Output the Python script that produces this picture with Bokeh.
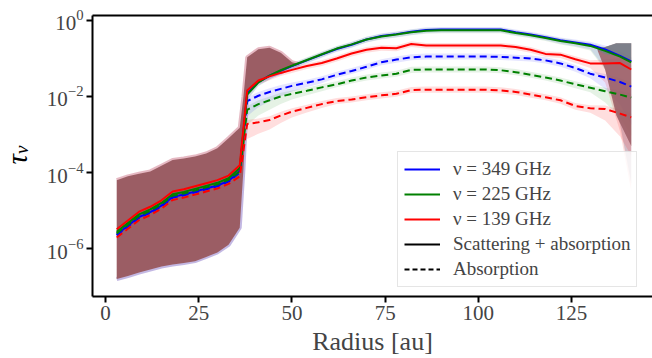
import numpy as np
from bokeh.plotting import figure
from bokeh.layouts import row
from bokeh.models import (Range1d, FixedTicker, Legend, LegendItem,
                          LinearAxis, ColumnDataSource, Div)
from bokeh.embed import file_html
from bokeh.resources import INLINE

# ---------------- data (log10 of tau_nu) ----------------
radius = [3, 6, 9, 12, 15, 18, 21, 24, 27, 30, 33, 36, 38, 41, 44, 47, 50,
          54, 58, 62, 66, 70, 74, 78, 82, 86, 90, 94, 98, 102, 106, 110, 114,
          118, 122, 126, 130, 134, 138, 141]

blue_solid = [-5.63, -5.40, -5.17, -5.04, -4.87, -4.64, -4.58, -4.50, -4.42, -4.34, -4.22, -3.95,
              -1.92, -1.62, -1.45, -1.32, -1.20, -1.05, -0.90, -0.75, -0.64, -0.50, -0.41, -0.36,
              -0.30, -0.25, -0.24, -0.24, -0.24, -0.24, -0.24, -0.31, -0.37, -0.44, -0.52, -0.58,
              -0.64, -0.76, -0.93, -1.08]
green_solid = [-5.56, -5.33, -5.10, -4.97, -4.80, -4.57, -4.51, -4.43, -4.35, -4.27, -4.15, -3.88,
               -1.95, -1.63, -1.45, -1.31, -1.19, -1.04, -0.89, -0.74, -0.63, -0.50, -0.42, -0.37,
               -0.31, -0.27, -0.26, -0.26, -0.26, -0.26, -0.26, -0.33, -0.39, -0.46, -0.54, -0.60,
               -0.67, -0.80, -0.95, -1.10]
red_solid = [-5.49, -5.26, -5.03, -4.90, -4.73, -4.50, -4.44, -4.36, -4.28, -4.20, -4.08, -3.81,
             -1.84, -1.58, -1.47, -1.38, -1.30, -1.20, -1.12, -1.00, -0.87, -0.77, -0.72, -0.73,
             -0.62, -0.66, -0.66, -0.66, -0.66, -0.66, -0.66, -0.70, -0.77, -0.88, -0.90, -1.02,
             -1.13, -1.13, -1.12, -1.29]
blue_dash = [-5.65, -5.42, -5.19, -5.06, -4.89, -4.66, -4.60, -4.52, -4.44, -4.36, -4.24, -4.00,
             -2.12, -1.98, -1.88, -1.80, -1.72, -1.64, -1.55, -1.43, -1.33, -1.22, -1.10, -1.03,
             -0.97, -0.95, -0.95, -0.95, -0.95, -0.95, -0.96, -0.98, -1.00, -1.05, -1.13, -1.25,
             -1.40, -1.50, -1.62, -1.74]
green_dash = [-5.60, -5.37, -5.14, -5.01, -4.84, -4.61, -4.55, -4.47, -4.39, -4.31, -4.19, -3.97,
              -2.35, -2.20, -2.10, -2.00, -1.93, -1.85, -1.76, -1.68, -1.58, -1.50, -1.45, -1.40,
              -1.30, -1.29, -1.29, -1.29, -1.29, -1.29, -1.31, -1.36, -1.43, -1.50, -1.58, -1.68,
              -1.77, -1.86, -1.95, -2.03]
red_dash = [-5.71, -5.48, -5.25, -5.12, -4.95, -4.72, -4.66, -4.58, -4.50, -4.42, -4.30, -4.10,
            -2.72, -2.68, -2.62, -2.50, -2.40, -2.30, -2.20, -2.12, -2.08, -2.02, -1.97, -1.93,
            -1.83, -1.82, -1.82, -1.82, -1.82, -1.82, -1.84, -1.88, -1.95, -2.02, -2.10, -2.25,
            -2.31, -2.33, -2.45, -2.55]

# uncertainty half-widths (dex) above / below each curve
solid_up = [0.04] * 12 + [0.10, 0.08, 0.08, 0.07, 0.07, 0.07, 0.07, 0.07, 0.07, 0.07, 0.07, 0.07,
                          0.07, 0.07, 0.07, 0.07, 0.07, 0.07, 0.07, 0.07, 0.07, 0.07, 0.07, 0.08,
                          0.08, 0.10, 0.12, 0.12]
solid_dn = [0.04] * 12 + [0.15, 0.10, 0.10, 0.08, 0.08, 0.08, 0.08, 0.08, 0.08, 0.08, 0.08, 0.08,
                          0.08, 0.08, 0.08, 0.08, 0.08, 0.08, 0.08, 0.08, 0.08, 0.08, 0.09, 0.10,
                          0.12, 0.50, 1.80, 3.20]
dash_up = [0.04] * 12 + [0.10, 0.10, 0.10, 0.10, 0.09, 0.08, 0.08, 0.08, 0.08, 0.08, 0.08, 0.08,
                         0.08, 0.08, 0.08, 0.08, 0.08, 0.08, 0.08, 0.08, 0.08, 0.08, 0.08, 0.08,
                         0.08, 0.09, 0.10, 0.10]
dash_dn = [0.04] * 12 + [0.40, 0.30, 0.25, 0.20, 0.15, 0.12, 0.10, 0.08, 0.08, 0.08, 0.08, 0.08,
                         0.08, 0.08, 0.08, 0.08, 0.08, 0.08, 0.08, 0.08, 0.08, 0.08, 0.09, 0.10,
                         0.12, 0.30, 0.60, 1.00]

# wide (overlapping) posterior envelope
env_r = [3, 6, 9, 12, 15, 18, 21, 24, 27, 30, 33, 36, 37, 38, 41, 44, 47, 50, 52]
env_hi = [-4.20, -4.10, -4.03, -3.97, -3.82, -3.67, -3.63, -3.58, -3.50, -3.36, -3.10, -2.82,
          -2.00, -0.97, -0.76, -0.72, -0.85, -1.10, -1.15]
env_lo = [-6.80, -6.72, -6.63, -6.55, -6.47, -6.42, -6.38, -6.33, -6.22, -6.10, -5.90, -5.45,
          -3.90, -1.88, -1.60, -1.47, -1.37, -1.22, -1.15]
tail_r = [132, 134, 137, 141]
tail_hi = [-0.75, -0.70, -0.60, -0.60]
tail_lo = [-0.80, -1.30, -2.50, -3.30]
teal_r = [132, 134, 137, 141]
teal_hi = [-0.75, -0.70, -0.60, -0.60]
teal_lo = [-0.78, -0.88, -0.93, -1.05]

x_ticks = [0, 25, 50, 75, 100, 125]
y_ticks = [1e-6, 1e-4, 1e-2, 1e0]
labels = ["\u03bd = 349 GHz", "\u03bd = 225 GHz", "\u03bd = 139 GHz",
          "Scattering + absorption", "Absorption"]
y_title = ("\u03c4", "\u03bd")   # tau with subscript nu
colors = ["#0000ff", "#008000", "#ff0000"]

FONT = "Liberation Serif"
LEFT_W = 40
TOP, BOTTOM = 15, 296          # frame edges in page pixels

# ---------------- left strip with the rotated y-axis title ----------------
title_html = (
    '<div style="position:absolute; left:17px; top:155px; '
    'transform: translate(-50%, -50%) rotate(-90deg); white-space:nowrap; '
    "font-family:'Liberation Serif'; font-style:italic; font-size:29px; "
    'line-height:1; color:black;">'
    + y_title[0]
    + '<sub style="font-size:19px; vertical-align:-0.1em;">' + y_title[1] + '</sub></div>'
)
lt = Div(text=title_html, width=LEFT_W, height=358, margin=0,
         styles={"position": "relative", "overflow": "visible"})

# ---------------- main figure ----------------
p = figure(width=652 - LEFT_W, height=358, output_backend="svg", toolbar_location=None,
           y_axis_type="log",
           x_range=Range1d(-3.49, 146.7), y_range=Range1d(10 ** -7.26, 10 ** 0.13),
           min_border_left=92 - LEFT_W, min_border_right=0, min_border_top=TOP,
           min_border_bottom=358 - BOTTOM, margin=0)
p.outline_line_color = None
p.grid.visible = False
p.background_fill_color = "white"

def pw(a):
    return 10 ** np.asarray(a, dtype=float)

r = np.asarray(radius, dtype=float)
solids = [blue_solid, green_solid, red_solid]
dashes = [blue_dash, green_dash, red_dash]
alphas = [0.10, 0.10, 0.13]

# light bands
for c, s, d, a in zip(colors, solids, dashes, alphas):
    s = np.asarray(s); d = np.asarray(d)
    p.varea(x=r, y1=pw(s - np.asarray(solid_dn)), y2=pw(s + np.asarray(solid_up)),
            fill_color=c, fill_alpha=a)
    p.varea(x=r, y1=pw(d - np.asarray(dash_dn)), y2=pw(d + np.asarray(dash_up)),
            fill_color=c, fill_alpha=a)

# envelope fringes + brown envelope
p.line(env_r, pw(env_hi), line_color="#e0a8b4", line_width=4, line_alpha=0.8)
p.line(env_r, pw(env_lo), line_color="#b4a6dc", line_width=4, line_alpha=0.8)
p.varea(x=env_r, y1=pw(env_lo), y2=pw(env_hi), fill_color="#9b5d64", fill_alpha=1.0)
p.varea(x=tail_r, y1=pw(tail_lo), y2=pw(tail_hi), fill_color="#9b5d64", fill_alpha=0.85)
p.varea(x=teal_r, y1=pw(teal_lo), y2=pw(teal_hi), fill_color="#5f8795", fill_alpha=0.6)

# curves
rends = []
for c, s, d in zip(colors, solids, dashes):
    ls = p.line(r, pw(s), line_color=c, line_width=2)
    p.line(r, pw(d), line_color=c, line_width=2, line_dash="7 4")
    rends.append(ls)

# legend-only proxies (placed outside the visible range)
proxy = ColumnDataSource(data=dict(x=[-50, -40], y=[1e3, 1e3]))
k_solid = p.line("x", "y", source=proxy, line_color="black", line_width=2)
k_dash = p.line("x", "y", source=proxy, line_color="black", line_width=2, line_dash="5 3")

legend = Legend(items=[LegendItem(label=labels[0], renderers=[rends[0]]),
                       LegendItem(label=labels[1], renderers=[rends[1]]),
                       LegendItem(label=labels[2], renderers=[rends[2]]),
                       LegendItem(label=labels[3], renderers=[k_solid]),
                       LegendItem(label=labels[4], renderers=[k_dash])],
                location=(305, 9))
legend.label_text_font = FONT
legend.label_text_font_size = "19px"
legend.glyph_width = 36
legend.glyph_height = 20
legend.label_height = 20
legend.spacing = 3
legend.padding = 6
legend.margin = 0
legend.label_standoff = 13
legend.border_line_color = "#cccccc"
legend.border_line_width = 1
legend.background_fill_alpha = 0.8
p.add_layout(legend, "center")

# axes
for ax in (p.xaxis[0], p.yaxis[0]):
    ax.axis_line_width = 2
    ax.major_tick_line_width = 2
    ax.major_tick_out = 6
    ax.major_tick_in = 0
    ax.minor_tick_out = 0
    ax.minor_tick_in = 0
    ax.major_label_text_font = FONT
    ax.major_label_text_font_size = "21px"
    ax.major_label_standoff = 3
p.xaxis.ticker = FixedTicker(ticks=x_ticks, minor_ticks=[])
p.yaxis.ticker = FixedTicker(ticks=y_ticks, minor_ticks=[])
p.xaxis.axis_label = "Radius [au]"
p.xaxis.axis_label_text_font = FONT
p.xaxis.axis_label_text_font_size = "26px"
p.xaxis.axis_label_text_font_style = "normal"
p.xaxis.axis_label_standoff = 4

top = LinearAxis(ticker=FixedTicker(ticks=[], minor_ticks=[]),
                 major_tick_line_color=None, minor_tick_line_color=None,
                 major_label_standoff=0, axis_line_width=2)
p.add_layout(top, "above")

layout = row(lt, p, spacing=0)
open("out.html", "w").write(file_html(layout, INLINE))
